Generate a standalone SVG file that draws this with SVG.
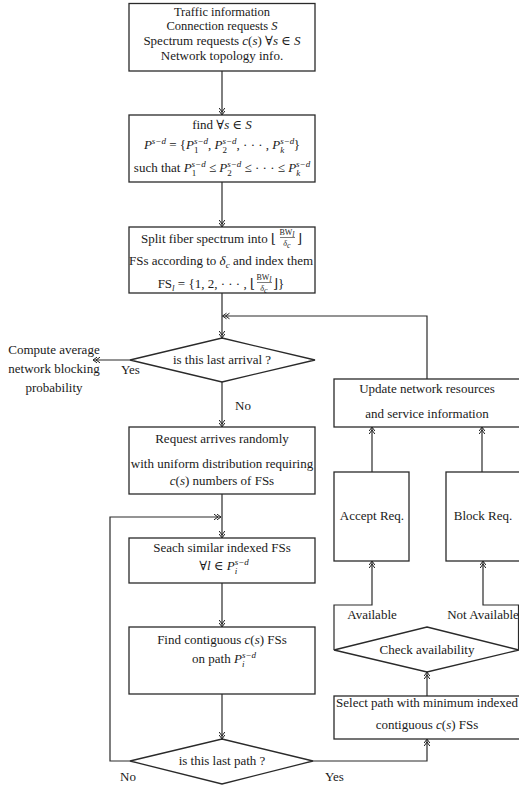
<svg xmlns="http://www.w3.org/2000/svg" width="519" height="787" viewBox="0 0 519 787">
<style>
.b{fill:#fff;stroke:#2a2a2a;stroke-width:1.3}
.c{fill:none;stroke:#2a2a2a;stroke-width:1.2}
text{font-family:"Liberation Serif","DejaVu Serif",serif;font-size:13px;fill:#1a1a1a}
.m{text-anchor:middle}
.e{text-anchor:end}
.i{font-style:italic}
.s{font-size:9px;font-style:italic}
.u{font-size:9px}
.f{font-size:8px}
.t{font-size:12.5px}
</style>
<defs>
<marker id="ah" viewBox="-9 -5 11 10" refX="0" refY="0" markerWidth="11" markerHeight="10" markerUnits="userSpaceOnUse" orient="auto" overflow="visible">
<path d="M-4,-2.8 L0,0 L-4,2.8 M-7,-2.8 L-3,0 L-7,2.8" fill="none" stroke="#222" stroke-width="1"/>
</marker>
</defs>
<rect width="519" height="787" fill="#fff"/>

<g id="connectors" class="c">
<path class="c" d="M222,71 V115" marker-end="url(#ah)"/>
<path class="c" d="M222,182 V227" marker-end="url(#ah)"/>
<path class="c" d="M222,293 V338" marker-end="url(#ah)"/>
<path class="c" d="M427,379 V316 H222.5" marker-end="url(#ah)"/>
<path class="c" d="M130,360 H93" marker-end="url(#ah)"/>
<path class="c" d="M222,382 V427" marker-end="url(#ah)"/>
<path class="c" d="M222,494 V538" marker-end="url(#ah)"/>
<path class="c" d="M130,761 H110 V517 H221" marker-end="url(#ah)"/>
<path class="c" d="M222,583 V627" marker-end="url(#ah)"/>
<path class="c" d="M222,694 V739" marker-end="url(#ah)"/>
<path class="c" d="M313,761 H427 V739" marker-end="url(#ah)"/>
<path class="c" d="M427,696 V672" marker-end="url(#ah)"/>
<path class="c" d="M334,650 V605 H372 V561" marker-end="url(#ah)"/>
<path class="c" d="M518.5,650 V605 H483 V561" marker-end="url(#ah)"/>
<path class="c" d="M372,472 V427" marker-end="url(#ah)"/>
<path class="c" d="M482,472 V427" marker-end="url(#ah)"/>
</g>

<g id="traffic">
<rect class="b" x="129" y="3.5" width="186" height="67.5"/>
<text class="m t" x="222" y="15.5">Traffic information</text>
<text class="m t" x="222" y="30">Connection requests <tspan class="i">S</tspan></text>
<text class="m" x="222" y="44.5">Spectrum requests <tspan class="i">c</tspan>(<tspan class="i">s</tspan>) ∀<tspan class="i">s</tspan> ∈ <tspan class="i">S</tspan></text>
<text class="m" x="222" y="60">Network topology info.</text>
</g>

<g id="find">
<rect class="b" x="129" y="115" width="186" height="67"/>
<text class="m" x="222" y="129">find ∀<tspan class="i">s</tspan> ∈ <tspan class="i">S</tspan></text>
<text class="m" x="222" y="149"><tspan class="i">P</tspan><tspan class="s" dy="-5">s−d</tspan><tspan dy="5"> = {</tspan><tspan class="i">P</tspan><tspan class="s" dy="-5">s−d</tspan><tspan class="u" dx="-14" dy="9">1</tspan><tspan dx="9.5" dy="-4">, </tspan><tspan class="i">P</tspan><tspan class="s" dy="-5">s−d</tspan><tspan class="u" dx="-14" dy="9">2</tspan><tspan dx="9.5" dy="-4">, · · · , </tspan><tspan class="i">P</tspan><tspan class="s" dy="-5">s−d</tspan><tspan class="s" dx="-14" dy="9">k</tspan><tspan dx="9.5" dy="-4">}</tspan></text>
<text class="m" x="222" y="172">such that <tspan class="i">P</tspan><tspan class="s" dy="-5">s−d</tspan><tspan class="u" dx="-14" dy="9">1</tspan><tspan dx="9.5" dy="-4"> ≤ </tspan><tspan class="i">P</tspan><tspan class="s" dy="-5">s−d</tspan><tspan class="u" dx="-14" dy="9">2</tspan><tspan dx="9.5" dy="-4"> ≤ · · · ≤ </tspan><tspan class="i">P</tspan><tspan class="s" dy="-5">s−d</tspan><tspan class="s" dx="-14" dy="9">k</tspan></text>
</g>

<g id="split">
<rect class="b" x="129" y="227" width="186" height="66"/>
<text class="e" x="276" y="243">Split fiber spectrum into ⌊</text>
<text class="m f" x="287" y="235">BW<tspan class="f i" dy="2">l</tspan></text>
<line x1="280" y1="237.5" x2="295" y2="237.5" stroke="#222" stroke-width="0.6"/>
<text class="m f" x="287" y="246"><tspan class="i">δ</tspan><tspan class="f i" dy="2">c</tspan></text>
<text x="297" y="243">⌋</text>
<text class="m" x="221" y="265">FSs according to <tspan class="i">δ</tspan><tspan class="s" dy="3">c</tspan><tspan dy="-3"> and index them</tspan></text>
<text class="e" x="255" y="288">FS<tspan class="s" dy="3">l</tspan><tspan dy="-3"> = {1, 2, · · · , ⌊</tspan></text>
<text class="m f" x="264" y="280">BW<tspan class="f i" dy="2">l</tspan></text>
<line x1="257" y1="282.5" x2="272" y2="282.5" stroke="#222" stroke-width="0.6"/>
<text class="m f" x="264" y="291"><tspan class="i">δ</tspan><tspan class="f i" dy="2">c</tspan></text>
<text x="273" y="288">⌋}</text>
</g>

<g id="lastArrival">
<polygon class="b" points="222,338 315,360 222,382 130,360"/>
<text class="m" x="222" y="364">is this last arrival ?</text>
<text x="121" y="374">Yes</text>
<text x="235" y="410">No</text>
</g>

<g id="compute">
<text class="m" x="54" y="354">Compute average</text>
<text class="m" x="54" y="373">network blocking</text>
<text class="m" x="54" y="392">probability</text>
</g>

<g id="request">
<rect class="b" x="129" y="427" width="186" height="67"/>
<text class="m" x="222" y="443">Request arrives randomly</text>
<text class="m" x="222" y="468">with uniform distribution requiring</text>
<text class="m" x="222" y="485"><tspan class="i">c</tspan>(<tspan class="i">s</tspan>) numbers of FSs</text>
</g>

<g id="search">
<rect class="b" x="129" y="538" width="186" height="45"/>
<text class="m" x="222" y="552">Seach similar indexed FSs</text>
<text class="m" x="224" y="570">∀<tspan class="i">l</tspan> ∈ <tspan class="i">P</tspan><tspan class="s" dy="-5">s−d</tspan><tspan class="s" dx="-14" dy="9">i</tspan></text>
</g>

<g id="contiguous">
<rect class="b" x="129" y="627" width="186" height="67"/>
<text class="m" x="222" y="644">Find contiguous <tspan class="i">c</tspan>(<tspan class="i">s</tspan>) FSs</text>
<text class="m" x="224" y="663">on path <tspan class="i">P</tspan><tspan class="s" dy="-5">s−d</tspan><tspan class="s" dx="-14" dy="9">i</tspan></text>
</g>

<g id="lastPath">
<polygon class="b" points="222,739 313,761 222,784 130,761"/>
<text class="m" x="222" y="765">is this last path ?</text>
<text x="120" y="781">No</text>
<text x="325" y="781">Yes</text>
</g>

<g id="update">
<rect class="b" x="334" y="379" width="200" height="48"/>
<text class="m" x="427" y="393">Update network resources</text>
<text class="m" x="427" y="418">and service information</text>
</g>

<g id="accept">
<rect class="b" x="334" y="472" width="75" height="89"/>
<text class="m" x="372" y="520">Accept Req.</text>
</g>

<g id="block">
<rect class="b" x="446" y="472" width="90" height="89"/>
<text class="m" x="483" y="520">Block Req.</text>
</g>

<g id="labels">
<text class="m" x="372" y="619">Available</text>
<text class="m" x="483" y="619">Not Available</text>
</g>

<g id="check">
<polygon class="b" points="427,627 519,650 427,672 334,650"/>
<text class="m" x="427" y="654">Check availability</text>
</g>

<g id="select">
<rect class="b" x="334" y="696" width="200" height="43"/>
<text class="m" x="427" y="707">Select path with minimum indexed</text>
<text class="m" x="427" y="729">contiguous <tspan class="i">c</tspan>(<tspan class="i">s</tspan>) FSs</text>
</g>
</svg>
